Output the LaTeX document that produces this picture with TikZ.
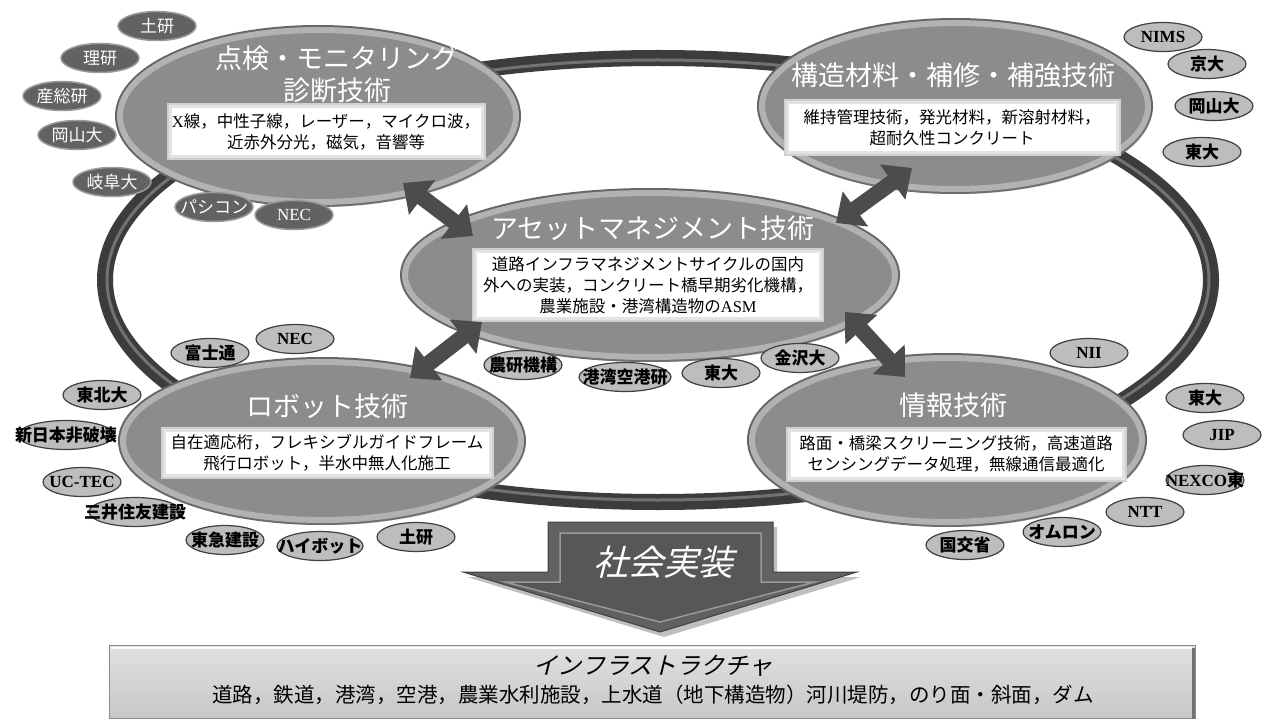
\documentclass[tikz,border=0pt]{standalone}
\usepackage{fontspec}
\setmainfont{Noto Sans CJK JP}
\newfontfamily\lat{Liberation Serif}
\newfontfamily\jpit[FakeSlant=0.25]{Noto Sans CJK JP}
\usetikzlibrary{shapes.geometric,arrows.meta,shadows}
\definecolor{ellbody}{HTML}{8C8C8C}
\definecolor{ellrim}{HTML}{B2B2B2}
\definecolor{ellout}{HTML}{666666}
\definecolor{ringc}{HTML}{3C3C3C}
\definecolor{ringhi}{HTML}{727272}
\definecolor{arrc}{HTML}{4C4C4C}
\definecolor{darkorg}{HTML}{626262}
\definecolor{darkorgrim}{HTML}{9A9A9A}
\definecolor{lightorg}{HTML}{BDBDBD}
\definecolor{glow}{HTML}{D0D0D0}
\begin{document}
\begin{tikzpicture}[x=1pt,y=-1pt,
  mainell/.style={ellipse, fill=ellbody, draw=ellrim, line width=6pt,
    preaction={draw=ellout, line width=10pt},
    drop shadow={shadow xshift=3pt, shadow yshift=-5pt, opacity=0.35}},
  ttl/.style={text=white, align=center, inner sep=0pt, font=\fontsize{27}{32}\selectfont},
  wbox/.style={fill=white, draw=glow!60!white, line width=3pt, preaction={draw=glow, line width=7pt},
    align=center, inner sep=0pt, text=black, font=\fontsize{16.5}{21}\selectfont},
  dblarr/.style={line width=16pt, draw=arrc,
    arrows={Triangle[width=42pt,length=24pt]-Triangle[width=42pt,length=24pt]}},
  dorg/.style={ellipse, fill=darkorg, draw=darkorgrim, line width=1.5pt, minimum width=78pt,
    minimum height=29pt, inner xsep=-40pt, inner ysep=0pt, text=white, font=\fontsize{17}{17}\selectfont},
  lorg/.style={ellipse, fill=lightorg, draw=black!75, line width=1.2pt, minimum width=78pt,
    minimum height=29pt, inner xsep=-40pt, inner ysep=0pt, text=black, font=\fontsize{17}{17}\selectfont\bfseries}]
\useasboundingbox (0,0) rectangle (1272,722);
\fill[white] (0,0) rectangle (1272,722);

% ring
\draw[line width=16pt, ringc] (658,280) ellipse [x radius=553, y radius=222];
\draw[line width=3pt, ringhi] (658,280) ellipse [x radius=551, y radius=220];

% main ellipses
\node[mainell, minimum width=396pt, minimum height=172pt] (insp) at (318,116) {};
\node[mainell, minimum width=386pt, minimum height=166pt] (mat) at (955,106) {};
\node[mainell, minimum width=490pt, minimum height=164pt] (asm) at (650,275) {};
\node[mainell, minimum width=398pt, minimum height=158pt] (robo) at (322,441) {};
\node[mainell, minimum width=390pt, minimum height=164pt] (info) at (947,440) {};

% titles
\node[ttl] (inspT) at (337,74) {点検・モニタリング\\診断技術};
\node[ttl] (matT) at (953,75) {構造材料・補修・補強技術};
\node[ttl] (asmT) at (653,228) {アセットマネジメント技術};
\node[ttl] (roboT) at (327,406) {ロボット技術};
\node[ttl] (infoT) at (953,405) {情報技術};

% white boxes
\node[wbox, minimum width=312pt, minimum height=50pt] (inspB) at (326,132)
  {{\lat X}線，中性子線，レーザー，マイクロ波，\\近赤外分光，磁気，音響等};
\node[wbox, minimum width=330pt, minimum height=50pt] (matB) at (952,128)
  {維持管理技術，発光材料，新溶射材料，\\超耐久性コンクリート};
\node[wbox, minimum width=345pt, minimum height=66pt] (asmB) at (648,285)
  {道路インフラマネジメントサイクルの国内\\外への実装，コンクリート橋早期劣化機構，\\農業施設・港湾構造物の{\lat ASM}};
\node[wbox, minimum width=326pt, minimum height=45pt] (roboB) at (327,453)
  {自在適応桁，フレキシブルガイドフレーム\\飛行ロボット，半水中無人化施工};
\node[wbox, minimum width=334pt, minimum height=48pt] (infoB) at (956,454)
  {路面・橋梁スクリーニング技術，高速道路\\センシングデータ処理，無線通信最適化};

% double arrows
\coordinate (a1s) at (403,183); \coordinate (a1e) at (473,236);
\coordinate (a2s) at (912,168); \coordinate (a2e) at (836,223);
\coordinate (a3s) at (482,322); \coordinate (a3e) at (410,378);
\coordinate (a4s) at (845,312); \coordinate (a4e) at (905,377);
\draw[dblarr] (a1s) -- (a1e);
\draw[dblarr] (a2s) -- (a2e);
\draw[dblarr] (a3s) -- (a3e);
\draw[dblarr] (a4s) -- (a4e);

% organisations, top-left (dark)
\node[dorg] (o1) at (157,26) {土研};
\node[dorg] (o2) at (100,58) {理研};
\node[dorg] (o3) at (62,96) {産総研};
\node[dorg] (o4) at (77,135) {岡山大};
\node[dorg] (o5) at (112,182) {岐阜大};
\node[dorg] (o6) at (214,207) {パシコン};
\node[dorg] (o7) at (294,215) {\lat NEC};
% top-right
\node[lorg] (o8) at (1163,37) {\lat\bfseries NIMS};
\node[lorg] (o9) at (1207,64) {京大};
\node[lorg] (o10) at (1214,106) {岡山大};
\node[lorg] (o11) at (1202,152) {東大};
% middle
\node[lorg] (o12) at (523,365) {農研機構};
\node[lorg, minimum width=92pt] (o13) at (625,377) {港湾空港研};
\node[lorg] (o14) at (721,373) {東大};
\node[lorg] (o15) at (800,358) {金沢大};
% bottom-left
\node[lorg] (o16) at (210,353) {富士通};
\node[lorg] (o17) at (295,339) {\lat\bfseries NEC};
\node[lorg] (o18) at (102,395) {東北大};
\node[lorg, minimum width=96pt] (o19) at (66,435) {新日本非破壊};
\node[lorg] (o20) at (82,482) {\lat\bfseries UC-TEC};
\node[lorg, minimum width=92pt] (o21) at (135,512) {三井住友建設};
\node[lorg] (o22) at (225,540) {東急建設};
\node[lorg, minimum width=86pt] (o23) at (320,546) {ハイボット};
\node[lorg] (o24) at (416,537) {土研};
% bottom-right
\node[lorg] (o25) at (1089,353) {\lat\bfseries NII};
\node[lorg] (o26) at (1205,398) {東大};
\node[lorg] (o27) at (1222,435) {\lat\bfseries JIP};
\node[lorg] (o28) at (1205,480) {{\lat\bfseries NEXCO}東};
\node[lorg] (o29) at (1145,512) {\lat\bfseries NTT};
\node[lorg] (o30) at (1062,532) {オムロン};
\node[lorg] (o31) at (965,545) {国交省};

% big arrow
\fill[black, opacity=0.25] (552,527) -- (777,527) -- (777,577) -- (861,577) -- (664,637) -- (467,577) -- (552,577) -- cycle;
\filldraw[fill=black!62, draw=black!75, line width=1pt]
  (548,522) -- (773,522) -- (773,572) -- (857,572) -- (660,632) -- (463,572) -- (548,572) -- cycle;
\filldraw[fill=black!66, draw=black!40, line width=1.5pt]
  (560,533) -- (761,533) -- (761,582) -- (815,582) -- (660,622) -- (505,582) -- (560,582) -- cycle;
\node[text=white, inner sep=0pt, font=\jpit\fontsize{35}{35}\selectfont] (impl) at (663,562) {社会実装};

% infrastructure box
\node[draw=black!45, line width=1pt, top color=black!12, bottom color=black!22, minimum width=1086pt,
  minimum height=73pt, inner sep=0pt] (infra) at (652,682) {};
\draw[white, line width=2pt] (infra.north west) ++(2,3) -- ([xshift=-4pt,yshift=-3pt]infra.north east);
\draw[black!55, line width=3pt] ([xshift=-2pt,yshift=-3pt]infra.north east) -- ([xshift=-2pt]infra.south east);
\node[inner sep=0pt, font=\jpit\fontsize{24}{24}\selectfont] (infraT) at (653,666) {インフラストラクチャ};
\node[inner sep=0pt, font=\fontsize{20.5}{20.5}\selectfont] (infraL) at (653,695)
  {道路，鉄道，港湾，空港，農業水利施設，上水道（地下構造物）河川堤防，のり面・斜面，ダム};
\end{tikzpicture}
\end{document}
